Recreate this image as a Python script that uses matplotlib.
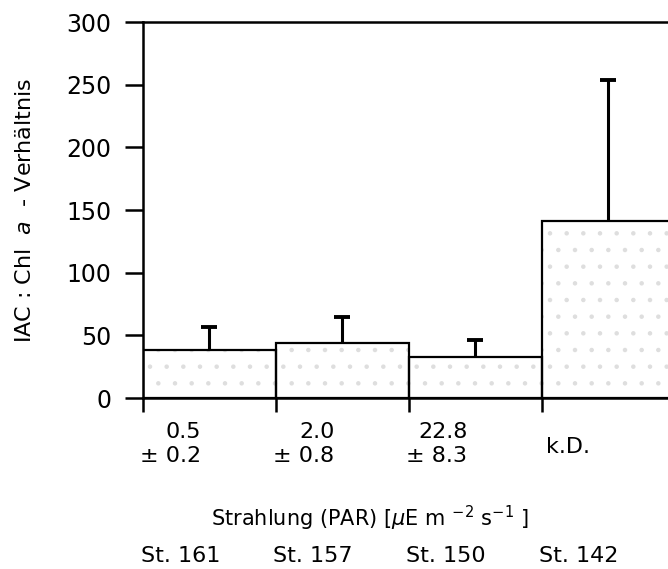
import matplotlib
matplotlib.use("Agg")
import matplotlib.pyplot as plt
import numpy as np

# data
par_mean = ["0.5", "2.0", "22.8"]
par_sd = ["0.2", "0.8", "8.3"]
stations = ["St. 161", "St. 157", "St. 150", "St. 142"]
ratio = [38, 44, 33, 141]
ratio_err = [19, 21, 13, 113]

plt.rcParams['font.family'] = ['DejaVu Sans']
plt.rcParams['hatch.linewidth'] = 0.8

fig = plt.figure(figsize=(6.68, 5.69), dpi=100)
ax = fig.add_axes([0.2141, 0.3005, 0.7859, 0.6608])

x = np.arange(len(ratio)) + 0.5
top = np.array(ratio) + np.array(ratio_err)
ax.bar(x, ratio, width=1.0, color='white', edgecolor='#dedede', hatch='.', linewidth=0, zorder=1)
ax.bar(x, ratio, width=1.0, fill=False, edgecolor='black', linewidth=1.6, zorder=2)
# one-sided error bars, cap only at the top
ax.vlines(x, ratio, top, color='black', linewidth=2.2, zorder=3)
ax.plot(x, top, linestyle='none', marker='_', markersize=12, markeredgewidth=2.8,
        color='black', zorder=3)

ax.set_xlim(0, 3.95)
ax.set_ylim(0, 300)
ax.set_yticks(np.arange(0, 301, 50))
ax.set_xticks([0, 1, 2, 3])
ax.set_xticklabels([])
ax.tick_params(axis='y', direction='out', length=13, width=1.8, labelsize=17, pad=10)
ax.tick_params(axis='x', direction='out', length=10, width=1.8)
ax.spines['right'].set_visible(False)
for s in ['left', 'bottom', 'top']:
    ax.spines[s].set_linewidth(1.8)

ax.set_ylabel("IAC : Chl  $\\it{a}$  - Verhältnis", fontsize=16, labelpad=22)

trans = ax.get_xaxis_transform()
for i, (m, sd) in enumerate(zip(par_mean, par_sd)):
    ax.text(x[i] - 0.06, -0.065, f"{m}\n± {sd}", transform=trans, ha='right', va='top',
            multialignment='right', fontsize=16, linespacing=1.25)
ax.text(x[3] - 0.3, -0.13, "k.D.", transform=trans, ha='center', va='center', fontsize=16)

fig.text(370 / 668, 1 - 518 / 569, r"Strahlung (PAR) [$\mu$E m $^{-2}$ s$^{-1}$ ]",
         ha='center', va='center', fontsize=15)

for i, st in enumerate(stations):
    ax.text(x[i] - 0.22, -0.42, st, transform=trans, ha='center', va='center', fontsize=16)

fig.savefig("out.png", dpi=100)
